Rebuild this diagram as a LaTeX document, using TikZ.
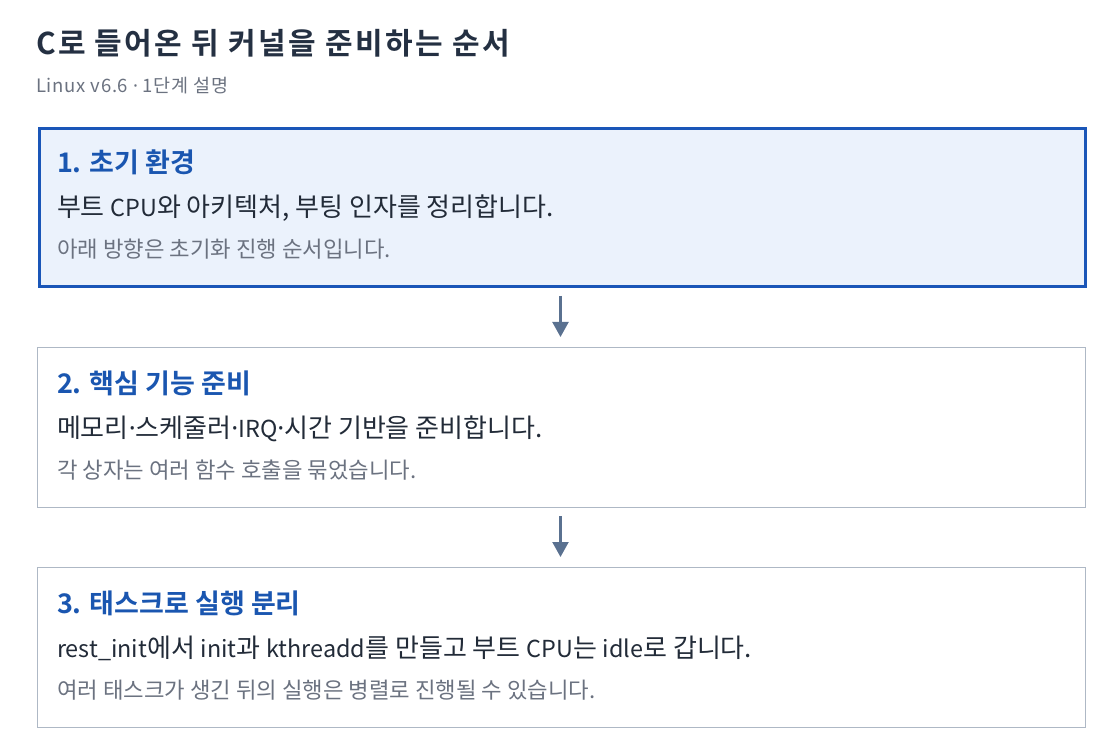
\documentclass[tikz,border=0pt]{standalone}
\usepackage{fontspec}
\setmainfont{Noto Sans CJK KR}
\usetikzlibrary{arrows.meta}
\definecolor{titlec}{HTML}{243042}
\definecolor{subc}{HTML}{6B7280}
\definecolor{headc}{HTML}{1A56B0}
\definecolor{bodyc}{HTML}{222B38}
\definecolor{notec}{HTML}{6B7280}
\definecolor{boxline}{HTML}{AEB8C5}
\definecolor{activeline}{HTML}{1A56B8}
\definecolor{activefill}{HTML}{EBF2FC}
\definecolor{arrowc}{HTML}{5A7190}
\newfontfamily\titlefont{Noto Sans CJK KR Bold}[LetterSpace=8]
\newfontfamily\headfont{Noto Sans CJK KR Bold}
\newfontfamily\bodyfont{Noto Sans CJK KR}
\newfontfamily\latfont{Noto Sans CJK KR}[Scale=0.9]
\newfontfamily\notefont{Noto Sans CJK KR}
\newfontfamily\subfont{Noto Sans CJK KR}[LetterSpace=4]
\newfontfamily\dotfont{Noto Sans}
\newcommand\mdot{{\dotfont ·}}
\newcommand\lat[1]{{\latfont #1}}
\tikzset{
  x=1pt,y=-1pt,
  txt/.style={anchor=base west, inner sep=0pt, outer sep=0pt},
  ttl/.style={txt, text=titlec, font=\titlefont\fontsize{30}{34}\selectfont},
  sub/.style={txt, text=subc, font=\subfont\fontsize{18.5}{22}\selectfont},
  head/.style={txt, text=headc, font=\headfont\fontsize{27}{31}\selectfont},
  body/.style={txt, text=bodyc, font=\bodyfont\fontsize{26}{30}\selectfont},
  note/.style={txt, text=notec, font=\notefont\fontsize{22.3}{26}\selectfont},
  card/.style={draw=boxline, line width=1.2pt, fill=white},
  activecard/.style={draw=activeline, line width=3pt, fill=activefill},
  flow/.style={draw=arrowc, line width=2.2pt, -{Triangle[width=16pt,length=15pt]}}
}
\begin{document}
\begin{tikzpicture}
\useasboundingbox (0,0) rectangle (1120,754);
\fill[white] (0,0) rectangle (1120,754);
\node[ttl] (title) at (36,55) {C로 들어온 뒤 커널을 준비하는 순서};
\node[sub] (subtitle) at (36,93) {Linux v6.6 \mdot{} 1단계 설명};

\node[activecard, minimum width=1046pt, minimum height=158pt, anchor=north west, inner sep=0pt] (box1) at (37.5,127.5) {};
\node[card, minimum width=1048pt, minimum height=160pt, anchor=north west, inner sep=0pt] (box2) at (36.5,346.5) {};
\node[card, minimum width=1048pt, minimum height=160pt, anchor=north west, inner sep=0pt] (box3) at (36.5,566.5) {};

\node[head] (h1) at (57,173) {1. 초기 환경};
\node[body] (b1) at (57,217) {부트 \lat{CPU}와 아키텍처, 부팅 인자를 정리합니다.};
\node[note] (n1) at (57,258) {아래 방향은 초기화 진행 순서입니다.};

\node[head] (h2) at (57,393) {2. 핵심 기능 준비};
\node[body] (b2) at (57,437) {메모리\mdot 스케줄러\mdot\lat{IRQ}\mdot 시간 기반을 준비합니다.};
\node[note] (n2) at (57,478) {각 상자는 여러 함수 호출을 묶었습니다.};

\node[head] (h3) at (57,613) {3. 태스크로 실행 분리};
\node[body] (b3) at (57,657) {\lat{rest\_init}에서 \lat{init}과 \lat{kthreadd}를 만들고 부트 \lat{CPU}는 \lat{idle}로 갑니다.};
\node[note] (n3) at (57,698) {여러 태스크가 생긴 뒤의 실행은 병렬로 진행될 수 있습니다.};

\coordinate (a1s) at (560.5,296);
\coordinate (a1e) at (560.5,337);
\coordinate (a2s) at (560.5,516);
\coordinate (a2e) at (560.5,557);
\draw[flow] (a1s) -- (a1e);
\draw[flow] (a2s) -- (a2e);
\end{tikzpicture}
\end{document}
